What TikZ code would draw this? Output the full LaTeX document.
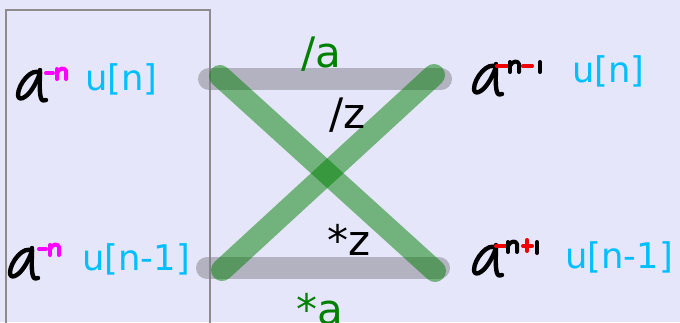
\documentclass[tikz,border=0pt]{standalone}
\usepackage{fontspec}
\setmainfont{DejaVu Sans}
\definecolor{bgc}{RGB}{230,230,250}
\definecolor{framec}{RGB}{140,140,140}
\definecolor{barc}{RGB}{128,128,138}
\definecolor{gc}{RGB}{0,128,0}
\definecolor{cyanc}{RGB}{0,191,255}
\definecolor{magc}{RGB}{255,0,255}
\definecolor{redc}{RGB}{240,0,0}
\tikzset{
  bar/.style={draw=barc, opacity=0.5, line width=16.5pt, line cap=round},
  xline/.style={draw=gc, opacity=0.5, line width=16.5pt, line cap=round},
  ink/.style={line width=3pt, line cap=round, line join=round},
  lbl/.style={inner sep=0pt, anchor=base west, font=\fontsize{31.5}{36}\selectfont},
  ulbl/.style={inner sep=0pt, anchor=base west, text=cyanc, font=\fontsize{26.5}{30}\selectfont},
  hwa/.pic={
    \draw[ink,black,line width=3.3pt] (23,5) .. controls (15,-1) and (1,16) .. (1,27) .. controls (1,35) and (14,30) .. (23,5);
    \draw[ink,black,line width=3.3pt] (23,2) .. controls (23,12) and (22,24) .. (24,30) .. controls (25,33) and (27,33) .. (29,32);
  },
}
\newcommand{\hwnpath}[3]{% x y color
  \draw[ink,#3] (#1,#2+11) -- (#1,#2+1);
  \draw[ink,#3] (#1,#2+5) .. controls (#1+2,#2) and (#1+8,#2-1) .. (#1+9,#2+3) -- (#1+9,#2+11);
}
\begin{document}
\begin{tikzpicture}[x=0.75pt,y=-0.75pt]
\fill[bgc] (0,0) rectangle (680,322);
\useasboundingbox (0,0) rectangle (680,322);
\clip (0,0) rectangle (680,322);
% frame
\draw[framec, line width=1.5pt] (6,10) rectangle (210,340);
% coordinates
\coordinate (tl) at (209,79);
\coordinate (tr) at (441,79);
\coordinate (bl) at (207,268);
\coordinate (br) at (439,268);
\coordinate (x1s) at (220,76);
\coordinate (x1e) at (435,271);
\coordinate (x2s) at (222,270);
\coordinate (x2e) at (434,75);
% bars
\draw[bar] (tl) -- (tr);
\draw[bar] (bl) -- (br);
% X lines
\draw[xline] (x1s) -- (x1e);
\draw[xline] (x2s) -- (x2e);
% labels
\node[lbl, text=gc] (la) at (301,67) {/a};
\node[lbl, text=black] (lz) at (329,128) {/z};
\node[lbl, text=black] (mz) at (327,255) {*z};
\node[lbl, text=gc] (ma) at (296,324) {*a};
% u labels
\node[ulbl] (u1) at (85,90.5) {u[n]};
\node[ulbl] (u2) at (82,270.5) {u[n-1]};
\node[ulbl] (u3) at (572,82.5) {u[n]};
\node[ulbl] (u4) at (565,268.5) {u[n-1]};
% handwritten a's
\pic at (17,68) {hwa};
\draw[ink,magc] (46,73) -- (53,73);
\hwnpath{57}{68}{magc}
\pic at (9,246) {hwa};
\draw[ink,magc] (39,249) -- (46,249);
\hwnpath{50}{244}{magc}
\pic at (473,62) {hwa};
\draw[ink,redc] (497,66) -- (507,66);
\hwnpath{510}{61}{black}
\draw[ink,redc] (523,66) -- (532,66);
\draw[ink,black] (540,62) -- (540,72);
\pic at (473,243) {hwa};
\draw[ink,redc] (496,246) -- (506,246);
\hwnpath{508}{241}{black}
\draw[ink,redc] (523,246) -- (532,246);
\draw[ink,redc] (527,240) -- (527,251);
\draw[ink,black] (537,242) -- (537,253);
\end{tikzpicture}
\end{document}
